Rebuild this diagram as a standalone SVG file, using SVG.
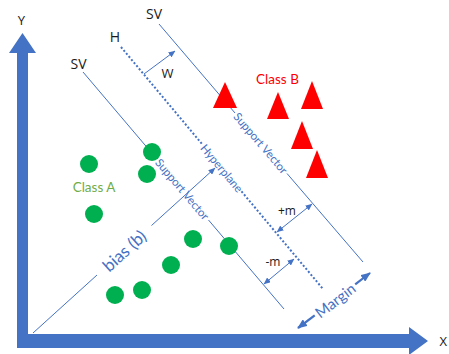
<svg xmlns="http://www.w3.org/2000/svg" width="449" height="354" viewBox="0 0 449 354">
<style>
.ln{stroke:#4472C4;stroke-width:1;fill:none}
.dot{stroke:#4472C4;stroke-width:2;stroke-dasharray:2 2;fill:none}
.thick{stroke:#4472C4;stroke-width:2.2;fill:none}
.blk{font-family:"Open Sans","Noto Sans",sans-serif;fill:#1a1a1a}
.cal{font-family:Lato,"Liberation Sans",sans-serif}
.bl{fill:#4472C4}
.ca{fill:#00B050}
.cb{fill:#FF0000}
</style>
<defs>
<marker id="ah" markerWidth="7" markerHeight="6" refX="6.5" refY="3" orient="auto-start-reverse" markerUnits="userSpaceOnUse"><path d="M0,0 L7,3 L0,6 z" fill="#4472C4"/></marker>
<marker id="ahb" markerWidth="10" markerHeight="8" refX="9" refY="4" orient="auto-start-reverse" markerUnits="userSpaceOnUse"><path d="M0,0 L10,4 L0,8 z" fill="#4472C4"/></marker>
</defs>
<g id="axes">
<polygon points="22.5,33 36,53 28,53 28,334 409,334 409,327 428,341 409,355 409,348 17,348 17,53 9,53" fill="#4472C4"/>
<text class="blk" x="21.5" y="25" font-size="13" text-anchor="middle">Y</text>
<text class="blk" x="439.5" y="346" font-size="13">X</text>
</g>
<g id="connectors">
<path class="ln" d="M83,72 L156,158 M208.5,220 L284,309"/>
<path class="ln" d="M159,24 L235,113 M287,173.5 L363,262"/>
<path class="dot" d="M121,47 L202.4,144.5 M241.5,191.4 L323,289"/>
<path class="ln" d="M33,333 L97,275"/>
<path class="ln" d="M151.5,225.5 L215,168" marker-end="url(#ah)"/>
<path class="ln" d="M144,74 L175,51" marker-end="url(#ah)"/>
<path class="ln" d="M312,204 L277,232" marker-start="url(#ah)" marker-end="url(#ah)"/>
<path class="ln" d="M294,259 L264,284" marker-start="url(#ah)" marker-end="url(#ah)"/>
<path class="thick" d="M298,328 L314.7,315.3" marker-start="url(#ahb)"/>
<path class="thick" d="M355.2,284.3 L370,273" marker-end="url(#ahb)"/>
</g>
<g id="labels">
<text class="blk" x="154" y="19" font-size="14" text-anchor="middle">SV</text>
<text class="blk" x="78.5" y="69" font-size="14" text-anchor="middle">SV</text>
<text class="blk" x="115" y="42" font-size="14" text-anchor="middle">H</text>
<text class="blk" x="167.5" y="77.5" font-size="13" text-anchor="middle">W</text>
<text class="blk" x="287" y="215" font-size="12" text-anchor="middle">+m</text>
<text class="blk" x="273" y="266" font-size="12" text-anchor="middle">-m</text>
<text class="cal bl" font-size="11.5" text-anchor="middle" dominant-baseline="central" transform="translate(222,168) rotate(50.1)">Hyperplane</text>
<text class="cal bl" font-size="11.5" text-anchor="middle" dominant-baseline="central" transform="translate(182.5,189) rotate(49.7)">Support Vector</text>
<text class="cal bl" font-size="11.5" text-anchor="middle" dominant-baseline="central" transform="translate(261,143) rotate(49.4)">Support Vector</text>
<text class="cal bl" font-size="17" text-anchor="middle" dominant-baseline="central" transform="translate(124,250.5) rotate(-42.2)">bias (b)</text>
<text class="cal bl" font-size="15" text-anchor="middle" dominant-baseline="central" transform="translate(335,300) rotate(-37.4)">Margin</text>
<text class="cal" x="94" y="192" font-size="13.5" text-anchor="middle" fill="#70AD47">Class A</text>
<text class="cal" x="277.5" y="84" font-size="13.5" text-anchor="middle" fill="#FF0000">Class B</text>
</g>
<g id="classA">
<circle class="ca" cx="152" cy="152" r="9"/>
<circle class="ca" cx="147" cy="174" r="9"/>
<circle class="ca" cx="89" cy="164" r="9"/>
<circle class="ca" cx="94" cy="214" r="9"/>
<circle class="ca" cx="193" cy="239" r="9"/>
<circle class="ca" cx="229" cy="246" r="9"/>
<circle class="ca" cx="171" cy="265" r="9"/>
<circle class="ca" cx="142" cy="290" r="9"/>
<circle class="ca" cx="115" cy="295" r="9"/>
</g>
<g id="classB">
<polygon class="cb" points="225,82 237,108 213,108"/>
<polygon class="cb" points="278,92 289,119 267,119"/>
<polygon class="cb" points="312,81 323,109 301,109"/>
<polygon class="cb" points="302,121 313,149 291,149"/>
<polygon class="cb" points="317,150 328,178 306,178"/>
</g>
</svg>
